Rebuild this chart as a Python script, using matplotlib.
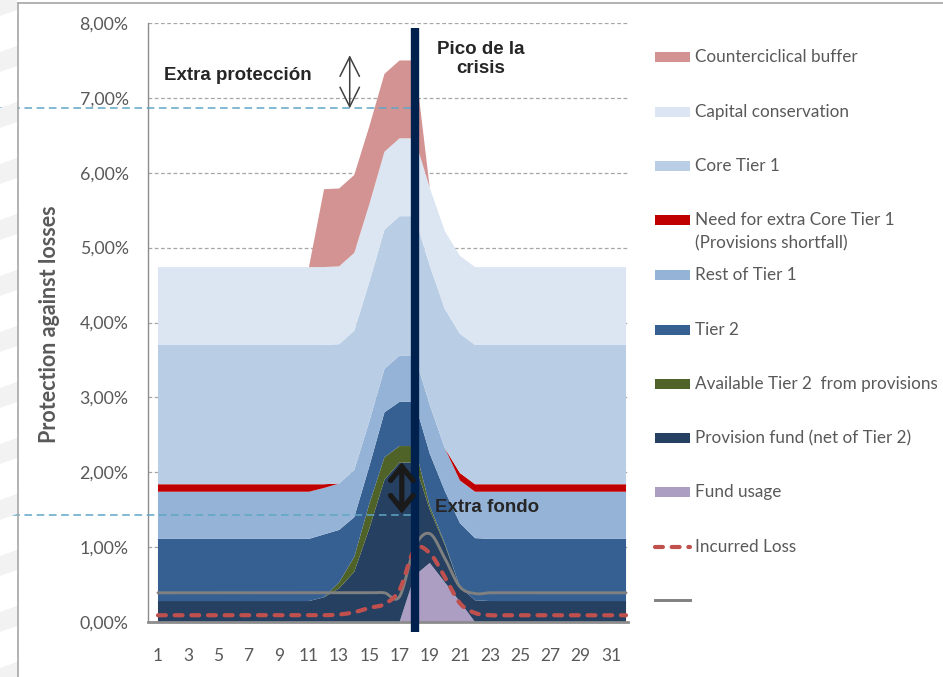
import numpy as np
import matplotlib
matplotlib.use("Agg")
import matplotlib.pyplot as plt
from matplotlib.lines import Line2D
from matplotlib.patches import Rectangle, Polygon

# ---------------- data (percent of exposure) ----------------
periods = list(range(1, 33))

fund_usage = [0, 0, 0, 0, 0, 0, 0, 0, 0, 0, 0, 0, 0, 0, 0, 0, 0,
              0.62, 0.79, 0.53, 0.27, 0, 0, 0, 0, 0, 0, 0, 0, 0, 0, 0]
provision_fund = [0.28, 0.28, 0.28, 0.28, 0.28, 0.28, 0.28, 0.28, 0.28, 0.28, 0.28,
                  0.33, 0.45, 0.67, 1.25, 1.90, 2.13, 1.51, 0.71, 0.50, 0.20, 0.29,
                  0.28, 0.28, 0.28, 0.28, 0.28, 0.28, 0.28, 0.28, 0.28, 0.28]
available_tier2 = [0, 0, 0, 0, 0, 0, 0, 0, 0, 0, 0, 0,
                   0.08, 0.20, 0.33, 0.30, 0.22, 0.22, 0.05, 0.02, 0, 0,
                   0, 0, 0, 0, 0, 0, 0, 0, 0, 0]
tier2 = [0.83, 0.83, 0.83, 0.83, 0.83, 0.83, 0.83, 0.83, 0.83, 0.83, 0.83,
         0.84, 0.70, 0.53, 0.50, 0.60, 0.59, 0.59, 0.70, 0.70, 0.85, 0.83,
         0.83, 0.83, 0.83, 0.83, 0.83, 0.83, 0.83, 0.83, 0.83, 0.83]
rest_tier1 = [0.63, 0.63, 0.63, 0.63, 0.63, 0.63, 0.63, 0.63, 0.63, 0.63, 0.63,
              0.62, 0.62, 0.63, 0.60, 0.58, 0.62, 0.62, 0.65, 0.57, 0.57, 0.62,
              0.63, 0.63, 0.63, 0.63, 0.63, 0.63, 0.63, 0.63, 0.63, 0.63]
extra_core_need = [0.10, 0.10, 0.10, 0.10, 0.10, 0.10, 0.10, 0.10, 0.10, 0.10, 0.10,
                   0.05, 0, 0, 0, 0, 0, 0, 0, 0, 0.10, 0.10,
                   0.10, 0.10, 0.10, 0.10, 0.10, 0.10, 0.10, 0.10, 0.10, 0.10]
core_tier1 = [1.86, 1.86, 1.86, 1.86, 1.86, 1.86, 1.86, 1.86, 1.86, 1.86, 1.86,
              1.86, 1.86, 1.86, 1.86, 1.86, 1.86, 1.86, 1.86, 1.86, 1.86, 1.86,
              1.86, 1.86, 1.86, 1.86, 1.86, 1.86, 1.86, 1.86, 1.86, 1.86]
capital_conservation = [1.04, 1.04, 1.04, 1.04, 1.04, 1.04, 1.04, 1.04, 1.04, 1.04, 1.04,
                        1.04, 1.04, 1.04, 1.04, 1.04, 1.04, 1.04, 1.04, 1.04, 1.04, 1.04,
                        1.04, 1.04, 1.04, 1.04, 1.04, 1.04, 1.04, 1.04, 1.04, 1.04]
countercyclical = [0, 0, 0, 0, 0, 0, 0, 0, 0, 0, 0,
                   1.04, 1.04, 1.04, 1.04, 1.04, 1.04, 1.04, 0, 0, 0, 0,
                   0, 0, 0, 0, 0, 0, 0, 0, 0, 0]

incurred_loss = [0.09, 0.09, 0.09, 0.09, 0.09, 0.09, 0.09, 0.09, 0.09, 0.09, 0.09,
                 0.09, 0.10, 0.13, 0.19, 0.24, 0.43, 0.97, 0.92, 0.60, 0.25, 0.12,
                 0.09, 0.09, 0.09, 0.09, 0.09, 0.09, 0.09, 0.09, 0.09, 0.09]
grey_series = [0.39, 0.39, 0.39, 0.39, 0.39, 0.39, 0.39, 0.39, 0.39, 0.39, 0.39,
               0.39, 0.39, 0.39, 0.39, 0.39, 0.34, 1.00, 1.18, 0.85, 0.47, 0.38,
               0.39, 0.39, 0.39, 0.39, 0.39, 0.39, 0.39, 0.39, 0.39, 0.39]

area_labels = ["Fund usage", "Provision fund (net of Tier 2)", "Available Tier 2  from provisions",
               "Tier 2", "Rest of Tier 1", "Need for extra Core Tier 1\n(Provisions shortfall)",
               "Core Tier 1", "Capital conservation", "Counterciclical buffer"]
area_colors = ["#AC9DC2", "#254061", "#4F6228", "#366092", "#95B3D7", "#C00000",
               "#B9CDE5", "#DCE6F2", "#D39393"]
loss_label = "Incurred Loss"

y_ticks = [0, 1, 2, 3, 4, 5, 6, 7, 8]
x_ticks = list(range(1, 32, 2))

crisis_peak = 18
protection_level = 6.86
protection_top = 7.57
fund_level = 1.43
fund_top = 2.13

# ---------------- helpers ----------------
W, H = 943, 677


def fx(px):
    return px / W


def fy(py):
    return 1 - py / H


def smooth(xs, ys, n=24):
    """Catmull-Rom curve through the points (spreadsheet-style smoothed line)."""
    xs = np.asarray(xs, float)
    ys = np.asarray(ys, float)
    m = np.zeros_like(ys)
    m[1:-1] = (ys[2:] - ys[:-2]) / 2
    m[0] = ys[1] - ys[0]
    m[-1] = ys[-1] - ys[-2]
    ox, oy = [], []
    for i in range(len(xs) - 1):
        t = np.linspace(0, 1, n, endpoint=False)
        h00 = 2 * t**3 - 3 * t**2 + 1
        h10 = t**3 - 2 * t**2 + t
        h01 = -2 * t**3 + 3 * t**2
        h11 = t**3 - t**2
        ox.extend(xs[i] + t * (xs[i + 1] - xs[i]))
        oy.extend(h00 * ys[i] + h10 * m[i] + h01 * ys[i + 1] + h11 * m[i + 1])
    ox.append(xs[-1])
    oy.append(ys[-1])
    return np.array(ox), np.array(oy)


body_font = "Lato"
grey_text = "#595959"
loss_style = dict(color="#C0504D", lw=3.0, dashes=(1.9, 2.1), dash_capstyle="round")
grey_style = dict(color="#808080", lw=2.1)

# ---------------- figure ----------------
fig = plt.figure(figsize=(W / 100, H / 100), dpi=100)
fig.patch.set_facecolor("white")

# faint slide watermark bands along the left margin
for top in range(-10, H, 56):
    fig.patches.append(Polygon([(fx(0), fy(top + 26)), (fx(17), fy(top + 20)),
                                (fx(17), fy(top)), (fx(0), fy(top + 6))],
                               closed=True, facecolor="#F2F2F2", edgecolor="none",
                               transform=fig.transFigure, zorder=0))

ax = fig.add_axes([fx(148), fy(622), fx(628) - fx(148), fy(23) - fy(622)])
ax.set_xlim(0.34, 32.13)
ax.set_ylim(0, 8)
ax.patch.set_alpha(0)

series = [fund_usage, provision_fund, available_tier2, tier2, rest_tier1,
          extra_core_need, core_tier1, capital_conservation, countercyclical]
ax.stackplot(periods, *series, colors=area_colors, linewidth=0, zorder=2)

gx, gy = smooth(periods, grey_series)
ax.plot(gx, gy, zorder=3, solid_capstyle="round", **grey_style)
lx, ly = smooth(periods, incurred_loss)
ax.plot(lx, ly, zorder=4, **loss_style)

# axes styling
ax.set_axisbelow(True)
ax.set_yticks(y_ticks)
ax.set_yticklabels([f"{v:.2f}%".replace(".", ",") for v in y_ticks],
                   fontsize=12.8, color=grey_text, family=body_font)
ax.set_xticks(x_ticks)
ax.set_xticklabels([str(v) for v in x_ticks], fontsize=12.5, color=grey_text,
                   family=body_font)
ax.tick_params(axis="y", length=0, pad=14)
ax.tick_params(axis="x", length=0, pad=19)
ax.yaxis.grid(True, color="#A6A6A6", lw=0.9, linestyle=(0, (3, 2)))
for s in ("top", "right"):
    ax.spines[s].set_visible(False)
ax.spines["left"].set_color("#8C8C8C")
ax.spines["left"].set_linewidth(1.0)
ax.spines["bottom"].set_color("#8C8C8C")
ax.spines["bottom"].set_linewidth(2.0)

fig.text(fx(50), fy(324), "Protection against losses", rotation=90,
         ha="center", va="center", fontsize=15.5, fontweight="bold",
         color=grey_text, family=body_font)

# crisis peak marker
ax.plot([crisis_peak, crisis_peak], [-0.13, 7.93], color="#00204E", lw=6,
        solid_capstyle="butt", zorder=6, clip_on=False)

# reference levels reaching to the left edge of the figure
x_left = ax.transData.inverted().transform(fig.transFigure.transform((0, 0)))[0]
for lvl in (protection_level, fund_level):
    ax.plot([x_left, crisis_peak], [lvl, lvl], color="#5FA6C6", lw=1.1,
            dashes=(5, 3), zorder=5, clip_on=False)

# arrows
ax.annotate("", xy=(13.7, protection_top), xytext=(13.7, protection_level),
            arrowprops=dict(arrowstyle="<->,head_length=0.7,head_width=0.35",
                            color="#404040", lw=1.1, shrinkA=0, shrinkB=0,
                            mutation_scale=20), zorder=7)
ax.annotate("", xy=(17.15, fund_top), xytext=(17.15, fund_level + 0.02),
            arrowprops=dict(arrowstyle="<->,head_length=0.55,head_width=0.45",
                            color="#1A1A1A", lw=3.8, shrinkA=0, shrinkB=0,
                            mutation_scale=18, joinstyle="miter"), zorder=7)

# annotations
bold_font = "Liberation Sans"
ax.text(6.3, 7.30, "Extra protección", ha="center", va="center", fontsize=13.5,
        fontweight="bold", color="#262626", family=bold_font, zorder=8)
ax.text(22.4, 7.52, "Pico de la\ncrisis", ha="center", va="center", fontsize=13.5,
        fontweight="bold", color="#262626", family=bold_font, linespacing=1.15,
        zorder=8)
ax.text(19.35, 1.53, "Extra fondo", ha="left", va="center", fontsize=13.5,
        fontweight="bold", color="#262626", family=bold_font, zorder=8)

# legend (top series first)
legend_rows = [57, 112, 166, 220, 275, 330, 384, 438, 492, 547, 600]
entries = list(zip(area_labels[::-1], area_colors[::-1]))
for (label, color), row in zip(entries, legend_rows):
    fig.patches.append(Rectangle((fx(655), fy(row + 5)), fx(690) - fx(655),
                                 fy(row - 5) - fy(row + 5), facecolor=color,
                                 edgecolor="none", transform=fig.transFigure))
    for k, line in enumerate(label.split("\n")):
        fig.text(fx(695), fy(row + 23 * k), line, ha="left", va="center",
                 fontsize=12.3, color=grey_text, family=body_font)
row = legend_rows[len(entries)]
fig.lines.append(Line2D([fx(655), fx(690)], [fy(row), fy(row)],
                        transform=fig.transFigure, **loss_style))
fig.text(fx(695), fy(row), loss_label, ha="left", va="center", fontsize=12.3,
         color=grey_text, family=body_font)
row = legend_rows[len(entries) + 1]
fig.lines.append(Line2D([fx(655), fx(690)], [fy(row), fy(row)],
                        transform=fig.transFigure, **grey_style))

# outer frame
fig.lines.append(Line2D([fx(18), fx(18)], [fy(3), 0], color="#A6A6A6", lw=1.2,
                        transform=fig.transFigure))
fig.lines.append(Line2D([fx(18), 1], [fy(3), fy(3)], color="#A6A6A6", lw=1.2,
                        transform=fig.transFigure))

fig.savefig("out.png", dpi=100, facecolor="white")
